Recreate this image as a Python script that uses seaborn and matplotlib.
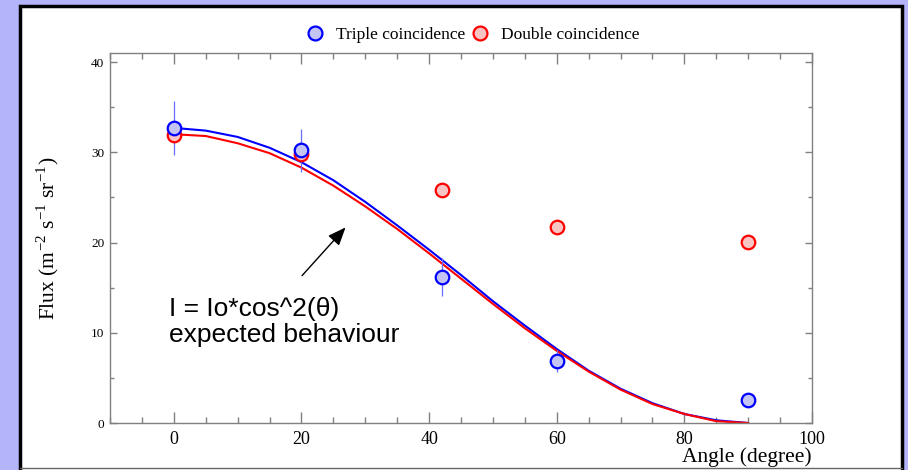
import pandas as pd
import numpy as np
import matplotlib.pyplot as plt
from matplotlib import ticker
from matplotlib.patches import Rectangle
from matplotlib.lines import Line2D
import seaborn as sns

# measured points
angle = [0, 20, 42, 60, 90]
triple_flux = [32.7, 30.2, 16.2, 6.9, 2.6]
triple_err = [3.0, 2.4, 2.1, 1.2, 0.0]
double_flux = [31.9, 29.8, 25.8, 21.7, 20.1]

# expected-behaviour curves, every 5 degrees
curve_angle = [0, 5, 10, 15, 20, 25, 30, 35, 40, 45, 50, 55, 60, 65, 70, 75, 80, 85, 90]
triple_curve = [32.7, 32.4, 31.7, 30.5, 28.9, 26.9, 24.5, 21.9, 19.2, 16.4, 13.5, 10.8, 8.2, 5.8, 3.8, 2.2, 1.0, 0.3, 0.0]
double_curve = [32.0, 31.8, 31.0, 29.9, 28.3, 26.3, 24.0, 21.5, 18.8, 16.0, 13.2, 10.5, 8.0, 5.7, 3.7, 2.1, 1.0, 0.2, 0.0]

labels = ["Triple coincidence", "Double coincidence"]

sns.set_style("white")
plt.rcParams['font.family'] = ['Liberation Serif', 'DejaVu Serif']
plt.rcParams['mathtext.fontset'] = 'stix'
plt.rcParams['text.color'] = 'black'
plt.rcParams['xtick.labelcolor'] = 'black'
plt.rcParams['ytick.labelcolor'] = 'black'

pts = pd.DataFrame({
    'angle': angle * 2,
    'flux': triple_flux + double_flux,
    'series': [labels[0]] * len(angle) + [labels[1]] * len(angle),
})
curves = pd.DataFrame({
    'angle': curve_angle * 2,
    'flux': triple_curve + double_curve,
    'series': [labels[0]] * len(curve_angle) + [labels[1]] * len(curve_angle),
})

fig = plt.figure(figsize=(9.08, 4.70), dpi=100, facecolor='#b4b4fa')
# white panel with black frame
fig.add_artist(Rectangle((20 / 908, -0.02), 882 / 908, 1.02 - 6 / 470, transform=fig.transFigure,
                         facecolor='white', edgecolor='black', lw=2.5, zorder=0))
fig.add_artist(Line2D([20 / 908, 902 / 908], [2 / 470, 2 / 470], transform=fig.transFigure,
                      color='#666666', lw=1))

ax = fig.add_axes([110 / 908, 47 / 470, 702 / 908, 370 / 470])
ax.set_facecolor('white')

sns.lineplot(data=curves, x='angle', y='flux', hue='series', palette={labels[0]: '#0000ff', labels[1]: '#ff0000'},
             sort=False, legend=False, lw=1.5, ax=ax, zorder=2)
ax.errorbar(angle, triple_flux, yerr=triple_err, fmt='none', ecolor='#6a6aff', elinewidth=0.9, capsize=0, zorder=3)

sub = pts[pts.series == labels[1]]
sns.scatterplot(data=sub, x='angle', y='flux', color='#f8c4c4', edgecolor='#ff0000', linewidth=1.6,
                s=95, ax=ax, zorder=4, legend=False)
sub = pts[pts.series == labels[0]]
sns.scatterplot(data=sub, x='angle', y='flux', color='#c4c4f4', edgecolor='#0000ff', linewidth=1.6,
                s=95, ax=ax, zorder=5, legend=False)

ax.set_xlim(-10, 100)
ax.set_ylim(0, 41)
ax.xaxis.set_major_locator(ticker.MultipleLocator(20))
ax.xaxis.set_minor_locator(ticker.MultipleLocator(5))
ax.yaxis.set_major_locator(ticker.MultipleLocator(10))
ax.yaxis.set_minor_locator(ticker.MultipleLocator(5))
ax.tick_params(axis='x', which='major', direction='in', length=8, width=1, color='#808080',
               top=True, bottom=True, labelsize=13, pad=6)
ax.tick_params(axis='x', which='minor', direction='in', length=4.5, width=1, color='#808080', top=True, bottom=True)
ax.tick_params(axis='y', which='major', direction='in', length=5, width=1, color='#808080',
               left=True, right=True, labelsize=9.5, pad=4)
ax.tick_params(axis='y', which='minor', direction='in', length=3, width=1, color='#808080', left=True, right=True)
for s in ax.spines.values():
    s.set_color('#808080')
    s.set_linewidth(1)

ax.set_xlabel("")
ax.set_ylabel("")
fig.text(812 / 908, 8 / 470, "Angle (degree)", ha='right', va='baseline', fontsize=15.5)
fig.text(48 / 908, 232 / 470, r"Flux (m$^{\mathregular{-2}}$ s$^{\mathregular{-1}}$ sr$^{\mathregular{-1}}$)",
         rotation=90, ha='center', va='center', fontsize=15.5)

ax.annotate("", xy=(27.2, 21.9), xytext=(19.8, 16.1),
            arrowprops=dict(arrowstyle='-|>,head_length=1.1,head_width=0.45', color='black', lw=1))
ax.text(-0.8, 9.0, "I = Io*cos^2(θ)\nexpected behaviour", fontsize=19, linespacing=1.12,
        family=['Liberation Sans', 'DejaVu Sans'], ha='left', va='baseline')

handles = [
    Line2D([], [], ls='none', marker='o', markersize=10, markerfacecolor='#c4c4f4',
           markeredgecolor='#0000ff', markeredgewidth=1.6),
    Line2D([], [], ls='none', marker='o', markersize=10, markerfacecolor='#f8c4c4',
           markeredgecolor='#ff0000', markeredgewidth=1.6),
]
fig.legend(handles, labels, loc='center', bbox_to_anchor=(471 / 908, 435 / 470), ncol=2, frameon=False,
           fontsize=12.5, handletextpad=0.5, columnspacing=0.15, handlelength=1.4)

fig.savefig('out.png', dpi=100, facecolor=fig.get_facecolor())
